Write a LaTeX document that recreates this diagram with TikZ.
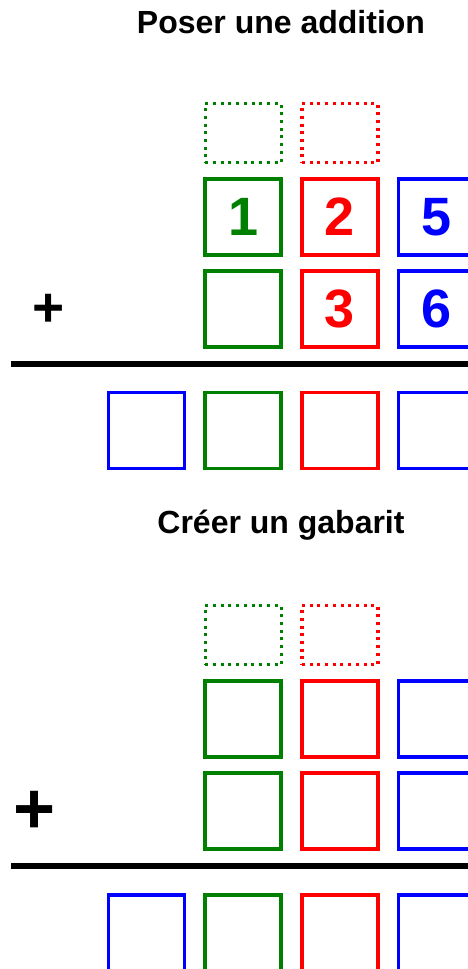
\documentclass[tikz,border=0pt]{standalone}
\usepackage{fontspec}
\setmainfont{Liberation Sans}
\usetikzlibrary{positioning}

\definecolor{vert}{RGB}{0,128,0}
\definecolor{rouge}{RGB}{255,0,0}
\definecolor{bleu}{RGB}{0,0,255}

\begin{document}
\begin{tikzpicture}[
  x=1pt, y=-1pt,
  cell/.style={rectangle, draw, line width=3.5pt, minimum width=76pt, minimum height=76pt, inner sep=0pt, font=\fontsize{54}{60}\selectfont\bfseries},
  retenue/.style={cell, line width=3.2pt, minimum height=59pt, dash pattern=on 3pt off 4.7pt},
  titre/.style={anchor=base, inner sep=0pt, font=\fontsize{32}{38}\selectfont\bfseries},
  signe/.style={inner sep=0pt, font=\fontsize{55}{60}\selectfont\bfseries},
  rule/.style={line width=5.8pt},
]
\useasboundingbox (0,0) rectangle (468,969);
\clip (0,0) rectangle (468,969);

% === POSER UNE ADDITION ===
\node[titre] (titreA) at (281, 33) {Poser une addition};

\node[retenue, vert] (retAg) at (243.2, 133) {};
\node[retenue, rouge] (retAr) at (339.9, 133) {};

\node[cell, vert, text=vert] (aA1) at (243.2, 216.8) {1};
\node[cell, rouge, text=rouge] (aA2) at (339.9, 216.8) {2};
\node[cell, bleu, text=bleu] (aA3) at (436.6, 216.8) {5};

\node[signe] (plusA) at (49, 310.5) {+};
\node[cell, vert] (bA1) at (243.2, 308.8) {};
\node[cell, rouge, text=rouge] (bA2) at (339.9, 308.8) {3};
\node[cell, bleu, text=bleu] (bA3) at (436.6, 308.8) {6};

\draw[rule] (11, 364) -- (490, 364);

\node[cell, bleu] (sA0) at (146.5, 430.7) {};
\node[cell, vert] (sA1) at (243.2, 430.7) {};
\node[cell, rouge] (sA2) at (339.9, 430.7) {};
\node[cell, bleu] (sA3) at (436.6, 430.7) {};

% === CREER UN GABARIT ===
\node[titre] (titreB) at (281, 533) {Créer un gabarit};

\node[retenue, vert] (retBg) at (243.2, 635) {};
\node[retenue, rouge] (retBr) at (339.9, 635) {};

\node[cell, vert] (aB1) at (243.2, 719) {};
\node[cell, rouge] (aB2) at (339.9, 719) {};
\node[cell, bleu] (aB3) at (436.6, 719) {};

\node[signe, font=\fontsize{72}{78}\selectfont\bfseries] (plusB) at (35, 812.5) {+};
\node[cell, vert] (bB1) at (243.2, 810.9) {};
\node[cell, rouge] (bB2) at (339.9, 810.9) {};
\node[cell, bleu] (bB3) at (436.6, 810.9) {};

\draw[rule] (11, 866) -- (490, 866);

\node[cell, bleu] (sB0) at (146.5, 932.8) {};
\node[cell, vert] (sB1) at (243.2, 932.8) {};
\node[cell, rouge] (sB2) at (339.9, 932.8) {};
\node[cell, bleu] (sB3) at (436.6, 932.8) {};
\end{tikzpicture}
\end{document}
